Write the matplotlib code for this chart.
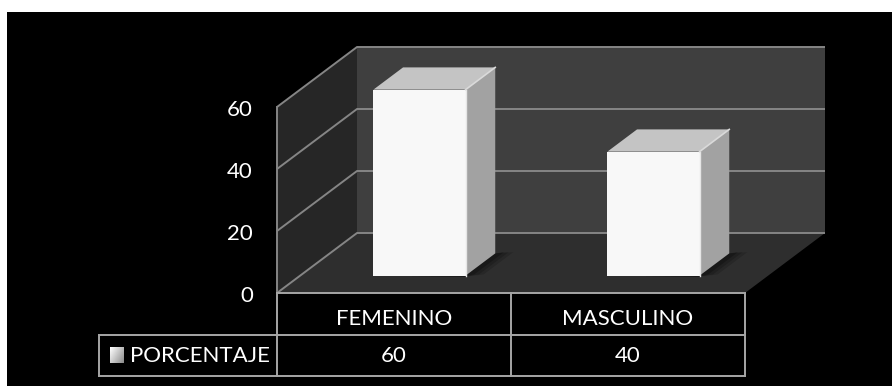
import numpy as np
import matplotlib
matplotlib.use("Agg")
import matplotlib.pyplot as plt
from matplotlib.patches import Polygon, Rectangle

# ---- data ----
categories = ["FEMENINO", "MASCULINO"]
values = [60, 40]
series_name = "PORCENTAJE"
yticks = [0, 20, 40, 60]
ytick_labels = ["0", "20", "40", "60"]

# ---- layout (pixel space of the 892x386 canvas) ----
W, H = 892, 386
X0, CAT_W = 277, 234          # front-left of floor, width of one category slot
Y0, VMAX = 293, 60            # front floor line, top of value axis
VSCALE = 186 / 60             # pixels per value unit
DX, DY = 80, 60               # depth offset of the back wall
BAR_D0, BAR_D1 = 0.29, 0.66   # bar depth span (fraction of floor depth)
BAR_C, BAR_HW = 0.51, 0.197   # bar centre & half width in category units
FONT = ["Lato", "DejaVu Sans"]
FS = 16.0

def proj(u, v, d):
    return (X0 + u * CAT_W + d * DX, Y0 - v * VSCALE - d * DY)

fig = plt.figure(figsize=(W / 100, H / 100), dpi=100, facecolor="white")
ax = fig.add_axes([0, 0, 1, 1])
ax.set_xlim(0, W)
ax.set_ylim(H, 0)
ax.axis("off")

# black chart area
ax.add_patch(Rectangle((7, 12), W - 7, H - 12, facecolor="black", edgecolor="none", zorder=0))

ncat = len(categories)
grid_col = "#858585"

# left wall
ax.add_patch(Polygon([proj(0, 0, 0), proj(0, VMAX, 0), proj(0, VMAX, 1), proj(0, 0, 1)],
                     closed=True, facecolor="#262626", edgecolor="none", zorder=1))
# back wall
ax.add_patch(Polygon([proj(0, 0, 1), proj(0, VMAX, 1), proj(ncat, VMAX, 1), proj(ncat, 0, 1)],
                     closed=True, facecolor="#3f3f3f", edgecolor="none", zorder=1))
# floor
ax.add_patch(Polygon([proj(0, 0, 0), proj(ncat, 0, 0), proj(ncat, 0, 1), proj(0, 0, 1)],
                     closed=True, facecolor="#2e2e2e", edgecolor="none", zorder=1))

# gridlines on left and back walls
for t in yticks:
    pa, pb, pc = proj(0, t, 0), proj(0, t, 1), proj(ncat, t, 1)
    ax.plot([pa[0], pb[0], pc[0]], [pa[1], pb[1], pc[1]], color=grid_col, lw=1.4, zorder=2,
            solid_capstyle="butt")
# front vertical edge of the left wall
pa, pb = proj(0, 0, 0), proj(0, VMAX, 0)
ax.plot([pa[0], pb[0]], [pa[1], pb[1]], color=grid_col, lw=1.4, zorder=2)

# y tick labels
for t, lab in zip(yticks, ytick_labels):
    x, y = proj(0, t, 0)
    ax.text(x - 24, y + 3, lab, ha="right", va="center", color="white",
            fontsize=FS, family=FONT, zorder=5)

# bars
for i, v in enumerate(values):
    ul, ur = i + BAR_C - BAR_HW, i + BAR_C + BAR_HW
    # soft shadow on the floor (layered, fading outward)
    for k, a in [(0.07, 0.18), (0.05, 0.22), (0.03, 0.3)]:
        sh = [proj(ul + 0.05, 0, BAR_D0), proj(ur, 0, BAR_D0 - 0.02),
              proj(ur + k, 0, BAR_D0 + 0.02), proj(ur + k, 0, BAR_D1 + 0.02),
              proj(ur, 0, BAR_D1)]
        ax.add_patch(Polygon(sh, closed=True, facecolor="#080808", edgecolor="none",
                             alpha=a, zorder=3))
    front = [proj(ul, 0, BAR_D0), proj(ur, 0, BAR_D0), proj(ur, v, BAR_D0), proj(ul, v, BAR_D0)]
    side = [proj(ur, 0, BAR_D0), proj(ur, 0, BAR_D1), proj(ur, v, BAR_D1), proj(ur, v, BAR_D0)]
    top = [proj(ul, v, BAR_D0), proj(ur, v, BAR_D0), proj(ur, v, BAR_D1), proj(ul, v, BAR_D1)]
    ax.add_patch(Polygon(side, closed=True, facecolor="#a2a2a2", edgecolor="none", zorder=4))
    ax.add_patch(Polygon(top, closed=True, facecolor="#c4c4c4", edgecolor="none", zorder=4))
    ax.add_patch(Polygon(front, closed=True, facecolor="#f8f8f8", edgecolor="none", zorder=4))
    # subtle light bevel along the front-right vertical edge and top-right edge
    p1, p2, p3 = proj(ur, 0, BAR_D0), proj(ur, v, BAR_D0), proj(ur, v, BAR_D1)
    ax.plot([p1[0], p2[0]], [p1[1], p2[1]], color="#e6e6e6", lw=1.0, zorder=4.5)
    ax.plot([p2[0], p3[0]], [p2[1], p3[1]], color="#dadada", lw=1.2, zorder=4.5)

# ---- data table ----
tab_col = "#a6a6a6"
row_h = 42
lab_left = 99
xr = [proj(k, 0, 0)[0] for k in range(ncat + 1)]
y_top, y_mid, y_bot = Y0, Y0 + row_h, Y0 + 2 * row_h - 1
lw = 1.4
# horizontal lines
ax.plot([xr[0], xr[-1]], [y_top, y_top], color=tab_col, lw=lw, zorder=6)
ax.plot([lab_left, xr[-1]], [y_mid, y_mid], color=tab_col, lw=lw, zorder=6)
ax.plot([lab_left, xr[-1]], [y_bot, y_bot], color=tab_col, lw=lw, zorder=6)
# vertical lines
for x in xr:
    ax.plot([x, x], [y_top, y_bot], color=tab_col, lw=lw, zorder=6)
ax.plot([lab_left, lab_left], [y_mid, y_bot], color=tab_col, lw=lw, zorder=6)

for i, (c, v) in enumerate(zip(categories, values)):
    xc = (xr[i] + xr[i + 1]) / 2
    ax.text(xc, y_top + 26, c, ha="center", va="center", color="white",
            fontsize=FS, family=FONT, zorder=7)
    ax.text(xc, y_mid + 21, f"{v}", ha="center", va="center", color="white",
            fontsize=FS, family=FONT, zorder=7)

# legend key with gradient
gx, gy = np.meshgrid(np.linspace(0, 1, 20), np.linspace(0, 1, 20))
grad = 1.0 - 0.45 * (gx * 0.6 + gy * 0.4)
ax.imshow(grad, cmap="gray", vmin=0, vmax=1, extent=(110, 124, 363, 347),
          interpolation="bilinear", zorder=7, aspect="auto")
ax.text(130, y_mid + 21, series_name, ha="left", va="center", color="white",
        fontsize=FS, family=FONT, zorder=7)

ax.set_xlim(0, W)
ax.set_ylim(H, 0)
fig.savefig("out.png", dpi=100, facecolor="white")
